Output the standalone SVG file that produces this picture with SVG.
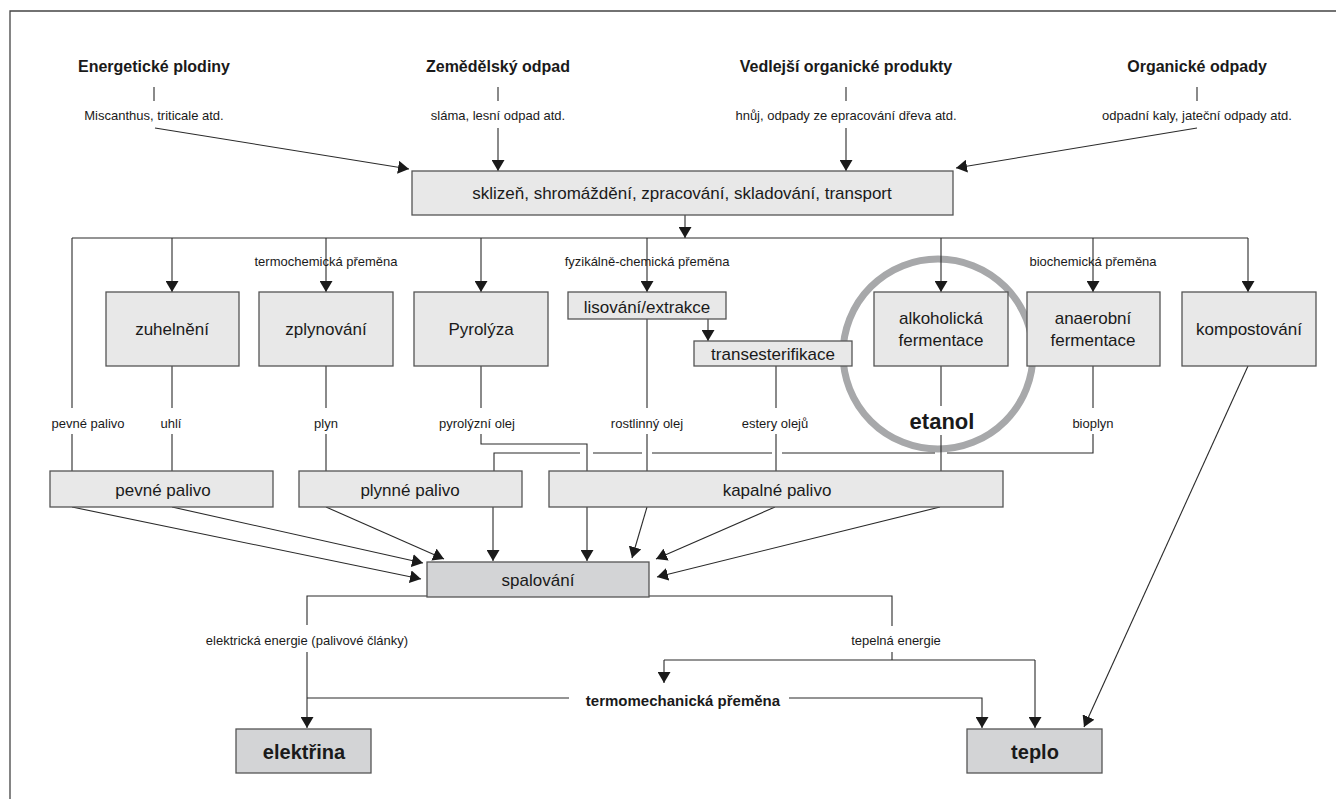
<svg xmlns="http://www.w3.org/2000/svg" width="1336" height="799" viewBox="0 0 1336 799">
<style>
text{font-family:"Liberation Sans Narrow","Liberation Sans",Arial,sans-serif;fill:#1a1a1a;text-anchor:middle}
.h{font-weight:bold;font-size:16px}
.s{font-size:13px}
.b{font-size:17px}
.bb{font-weight:bold;font-size:22px}
.box{fill:#e8e8e8;stroke:#555;stroke-width:1.3}
.dbox{fill:#d3d4d6;stroke:#555;stroke-width:1.3}
.c line,.c polyline,.c path{stroke:#2a2a2a;stroke-width:1.1;fill:none}
.ar{marker-end:url(#a)}
</style>
<defs>
<marker id="a" markerUnits="userSpaceOnUse" markerWidth="11" markerHeight="13" refX="11" refY="6.5" orient="auto">
<path d="M0,0 L11,6.5 L0,13 z" fill="#1a1a1a"/>
</marker>
</defs>
<rect width="1336" height="799" fill="#fff"/>
<path d="M10,799 V11 H1336" fill="none" stroke="#444" stroke-width="1.3"/>

<g id="src1"><text class="h" x="154" y="72">Energetické plodiny</text><text class="s" x="154" y="120">Miscanthus, triticale atd.</text></g>
<g id="src2"><text class="h" x="498" y="72">Zemědělský odpad</text><text class="s" x="498" y="120">sláma, lesní odpad atd.</text></g>
<g id="src3"><text class="h" x="846" y="72">Vedlejší organické produkty</text><text class="s" x="846" y="120">hnůj, odpady ze epracování dřeva atd.</text></g>
<g id="src4"><text class="h" x="1197" y="72">Organické odpady</text><text class="s" x="1197" y="120">odpadní kaly, jateční odpady atd.</text></g>

<g id="circle"><circle cx="938" cy="354" r="95" fill="none" stroke="#a7a8aa" stroke-width="7"/></g>

<g class="c" id="connectors">
<line x1="154" y1="87" x2="154" y2="101"/>
<line x1="498" y1="87" x2="498" y2="101"/>
<line x1="846" y1="87" x2="846" y2="101"/>
<line x1="1197" y1="87" x2="1197" y2="101"/>
<line class="ar" x1="155" y1="128" x2="409" y2="169"/>
<line class="ar" x1="498" y1="128" x2="498" y2="171"/>
<line class="ar" x1="846" y1="128" x2="846" y2="171"/>
<line class="ar" x1="1197" y1="128" x2="956" y2="168"/>
<line class="ar" x1="685" y1="215" x2="685" y2="238"/>
<line x1="72" y1="238" x2="1248" y2="238"/>
<line class="ar" x1="172" y1="238" x2="172" y2="292"/>
<line class="ar" x1="326" y1="238" x2="326" y2="292"/>
<line class="ar" x1="481" y1="238" x2="481" y2="292"/>
<line class="ar" x1="647" y1="238" x2="647" y2="292"/>
<line class="ar" x1="941" y1="238" x2="941" y2="292"/>
<line class="ar" x1="1093" y1="238" x2="1093" y2="292"/>
<line class="ar" x1="1248" y1="238" x2="1248" y2="292"/>
<line class="ar" x1="708" y1="319" x2="708" y2="341"/>
<line x1="72" y1="238" x2="72" y2="408"/><line x1="72" y1="434" x2="72" y2="471"/>
<line x1="172" y1="366" x2="172" y2="408"/><line x1="172" y1="434" x2="172" y2="471"/>
<line x1="326" y1="366" x2="326" y2="408"/><line x1="326" y1="434" x2="326" y2="471"/>
<line x1="481" y1="366" x2="481" y2="408"/><polyline points="481,434 481,444 587,444 587,471"/>
<line x1="647" y1="319" x2="647" y2="408"/><line x1="647" y1="434" x2="647" y2="471"/>
<line x1="776" y1="366" x2="776" y2="408"/><line x1="776" y1="434" x2="776" y2="471"/>
<line x1="941" y1="366" x2="941" y2="406"/><line x1="941" y1="435" x2="941" y2="471"/>
<line x1="1093" y1="366" x2="1093" y2="408"/><polyline points="1093,434 1093,453 947,453"/>
<line x1="935" y1="453" x2="782" y2="453"/>
<line x1="772" y1="453" x2="652" y2="453"/>
<line x1="642" y1="453" x2="593" y2="453"/>
<polyline points="580,453 494,453 494,471"/>
<line class="ar" x1="72" y1="507" x2="421" y2="579"/>
<line class="ar" x1="172" y1="507" x2="423" y2="563"/>
<line class="ar" x1="326" y1="507" x2="444" y2="559"/>
<line class="ar" x1="493" y1="507" x2="493" y2="561"/>
<line class="ar" x1="587" y1="507" x2="587" y2="561"/>
<line class="ar" x1="647" y1="507" x2="632" y2="558"/>
<line class="ar" x1="775" y1="507" x2="656" y2="559"/>
<line class="ar" x1="940" y1="507" x2="657" y2="577"/>
<polyline points="427,596 307,596 307,625"/>
<line class="ar" x1="307" y1="652" x2="307" y2="728"/>
<line x1="307" y1="698" x2="569" y2="698"/>
<polyline class="ar" points="789,698 982,698 982,728"/>
<polyline points="649,596 892,596 892,626"/>
<line x1="892" y1="652" x2="892" y2="660"/>
<line x1="664" y1="660" x2="1035" y2="660"/>
<line class="ar" x1="664" y1="660" x2="664" y2="683"/>
<line class="ar" x1="1035" y1="660" x2="1035" y2="728"/>
<line class="ar" x1="1248" y1="366" x2="1084" y2="727"/>
</g>

<g id="labels">
<text class="s" x="326" y="266">termochemická přeměna</text>
<text class="s" x="647" y="266">fyzikálně-chemická přeměna</text>
<text class="s" x="1093" y="266">biochemická přeměna</text>
<text class="s" x="88" y="428">pevné palivo</text>
<text class="s" x="171" y="428">uhlí</text>
<text class="s" x="326" y="428">plyn</text>
<text class="s" x="477" y="428">pyrolýzní olej</text>
<text class="s" x="647" y="428">rostlinný olej</text>
<text class="s" x="775" y="428">estery olejů</text>
<text class="bb" x="942" y="429">etanol</text>
<text class="s" x="1093" y="428">bioplyn</text>
<text class="s" x="307" y="645">elektrická energie (palivové články)</text>
<text class="s" x="896" y="645">tepelná energie</text>
<text class="h" x="683" y="706" style="font-size:15px">termomechanická přeměna</text>
</g>

<g id="n_sklizen"><rect class="box" x="412" y="171" width="541" height="44"/><text class="b" x="682" y="199">sklizeň, shromáždění, zpracování, skladování, transport</text></g>
<g id="n_zuhelneni"><rect class="box" x="106" y="292" width="133" height="74"/><text class="b" x="172" y="335">zuhelnění</text></g>
<g id="n_zplynovani"><rect class="box" x="259" y="292" width="134" height="74"/><text class="b" x="326" y="335">zplynování</text></g>
<g id="n_pyrolyza"><rect class="box" x="414" y="292" width="134" height="74"/><text class="b" x="481" y="335">Pyrolýza</text></g>
<g id="n_lisovani"><rect class="box" x="568" y="292" width="158" height="27"/><text class="b" x="647" y="313">lisování/extrakce</text></g>
<g id="n_trans"><rect class="box" x="694" y="341" width="158" height="25"/><text class="b" x="773" y="360">transesterifikace</text></g>
<g id="n_alko"><rect class="box" x="874" y="292" width="134" height="74"/><text class="b" x="941" y="324">alkoholická</text><text class="b" x="941" y="346">fermentace</text></g>
<g id="n_anaer"><rect class="box" x="1027" y="292" width="133" height="74"/><text class="b" x="1093" y="324">anaerobní</text><text class="b" x="1093" y="346">fermentace</text></g>
<g id="n_kompost"><rect class="box" x="1182" y="292" width="134" height="74"/><text class="b" x="1249" y="335">kompostování</text></g>
<g id="n_pevne"><rect class="box" x="50" y="471" width="223" height="36"/><text class="b" x="163" y="496">pevné palivo</text></g>
<g id="n_plynne"><rect class="box" x="299" y="471" width="223" height="36"/><text class="b" x="410" y="496">plynné palivo</text></g>
<g id="n_kapalne"><rect class="box" x="549" y="471" width="454" height="36"/><text class="b" x="777" y="496">kapalné palivo</text></g>
<g id="n_spalovani"><rect class="dbox" x="427" y="562" width="222" height="35"/><text class="b" x="538" y="586">spalování</text></g>
<g id="n_elektrina"><rect class="dbox" x="236" y="729" width="135" height="44"/><text class="bb" x="304" y="759" style="font-size:20px">elektřina</text></g>
<g id="n_teplo"><rect class="dbox" x="967" y="729" width="135" height="44"/><text class="bb" x="1035" y="759" style="font-size:20px">teplo</text></g>
</svg>
